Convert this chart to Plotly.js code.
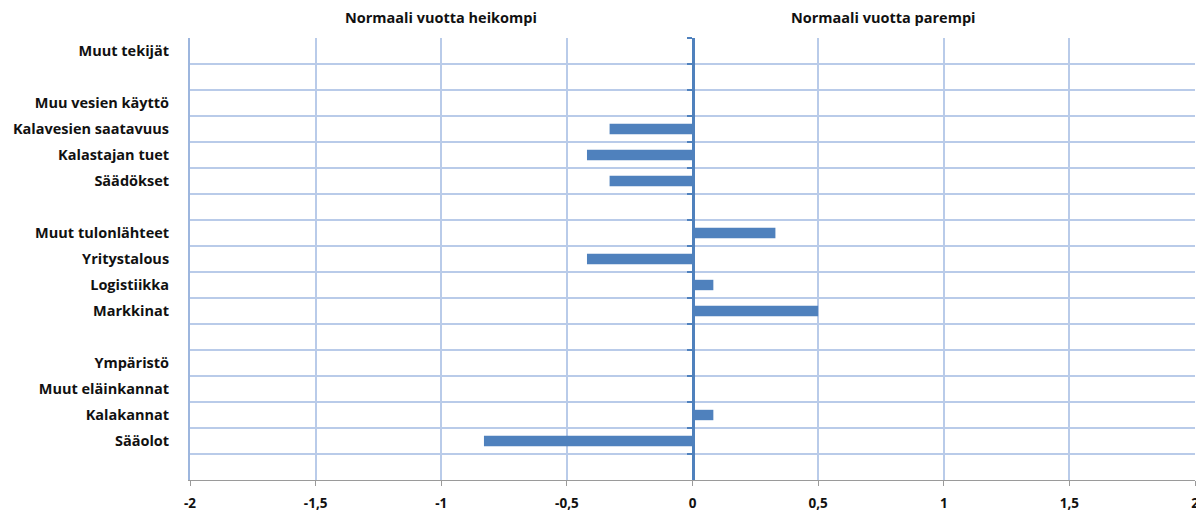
<!DOCTYPE html>
<html>
<head>
<meta charset="utf-8">
<script src="https://cdn.plot.ly/plotly-3.0.1.min.js"></script>
<style>html,body{margin:0;padding:0;background:#fff;}#chart{width:1196px;height:511px;}</style>
</head>
<body>
<div id="chart"></div>
<script>
// Categories top to bottom (blank spacer rows use unique whitespace names)
const categories = [
  "Muut tekijät", " ", "Muu vesien käyttö", "Kalavesien saatavuus", "Kalastajan tuet", "Säädökset",
  "  ", "Muut tulonlähteet", "Yritystalous", "Logistiikka", "Markkinat",
  "   ", "Ympäristö", "Muut eläinkannat", "Kalakannat", "Sääolot", "    "
];
const values = [
  0, null, 0, -0.33, -0.42, -0.33,
  null, 0.33, -0.42, 0.083, 0.5,
  null, 0, 0, 0.083, -0.83, null
];
const xTickVals = [-2, -1.5, -1, -0.5, 0, 0.5, 1, 1.5, 2];
const xTickText = ["-2", "-1,5", "-1", "-0,5", "0", "0,5", "1", "1,5", "2"];
const headerLeft = "Normaali vuotta heikompi";
const headerRight = "Normaali vuotta parempi";

const FONT = "'Open Sans', sans-serif";
const blue = "#4f81bd";
const grid = "#b9cbe9";

const traces = [
  {
    type: "bar", orientation: "h", x: values, y: categories,
    marker: {color: blue}, width: 0.4, hoverinfo: "x+y", showlegend: false
  },
  {
    type: "scatter", mode: "markers", x: categories.map(() => 0), y: categories,
    yaxis: "y2", marker: {opacity: 0}, hoverinfo: "skip", showlegend: false
  }
];

const layout = {
  width: 1196, height: 511,
  margin: {l: 190, r: 1, t: 38, b: 31},
  paper_bgcolor: "#fff", plot_bgcolor: "#fff",
  bargap: 0.6,
  xaxis: {
    range: [-2, 2], tickvals: xTickVals, ticktext: xTickText,
    showgrid: true, gridcolor: grid, gridwidth: 2,
    zeroline: false,
    showline: true, linecolor: "#9a9a9a", linewidth: 1,
    ticks: "outside", ticklen: 5, tickcolor: "#9a9a9a",
    ticklabelstandoff: 6, ticklabeloverflow: "allow",
    tickfont: {family: FONT, size: 13.5, color: "#111", weight: "bold"},
    fixedrange: true
  },
  yaxis: {
    type: "category", categoryarray: categories, categoryorder: "array",
    range: [16.5, -0.5],
    tickson: "boundaries", ticks: "", showgrid: true, gridcolor: grid, gridwidth: 2,
    showline: true, linecolor: "#9db6de", linewidth: 2,
    zeroline: false,
    ticklabelstandoff: 16,
    tickfont: {family: FONT, size: 14.5, color: "#111", weight: "bold"},
    fixedrange: true
  },
  yaxis2: {
    type: "category", categoryarray: categories, categoryorder: "array",
    range: [16.5, -0.5], overlaying: "y", anchor: "free", position: 0.5,
    side: "left", tickson: "boundaries", ticks: "outside", ticklen: 5, tickwidth: 2, tickcolor: blue,
    showticklabels: false, showgrid: false, zeroline: false,
    showline: true, linecolor: blue, linewidth: 3, fixedrange: true
  },
  annotations: [
    {text: headerLeft, x: -1, xref: "x", yref: "paper", yanchor: "middle", showarrow: false,
     font: {family: FONT, size: 14.5, color: "#111", weight: "bold"}},
    {text: headerRight, x: 0.76, xref: "x", yref: "paper", yanchor: "middle", showarrow: false,
     font: {family: FONT, size: 14.5, color: "#111", weight: "bold"}}
  ]
};
const plotH = 511 - 38 - 31;
layout.annotations.forEach(a => { a.y = 1 + (38 - 18) / plotH; });

Plotly.newPlot("chart", traces, layout, {displayModeBar: false, staticPlot: true});
</script>
</body>
</html>
